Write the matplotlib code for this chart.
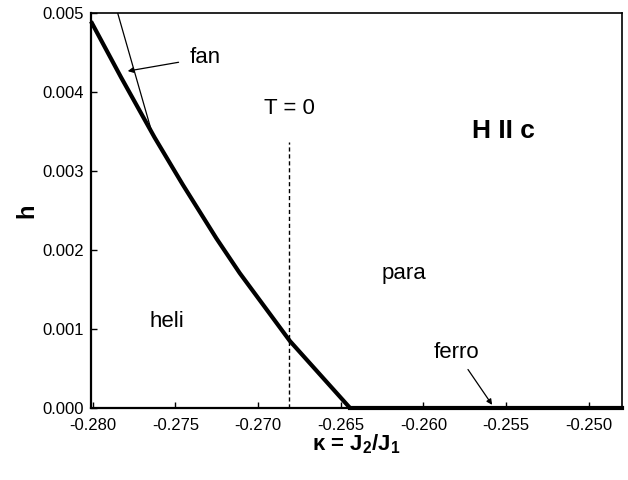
import numpy as np
import matplotlib
matplotlib.use("Agg")
import matplotlib.pyplot as plt

plt.rcParams['font.family'] = ['Liberation Sans', 'DejaVu Sans']
plt.rcParams['axes.unicode_minus'] = False
plt.rcParams['mathtext.fontset'] = 'custom'
plt.rcParams['mathtext.rm'] = 'Liberation Sans'
plt.rcParams['mathtext.bf'] = 'Liberation Sans:bold'

# helical / para boundary (thick curve)
heli_kappa = [-0.2801, -0.27828, -0.27626, -0.27515, -0.27455, -0.27252,
              -0.27111, -0.26808, -0.26444]
heli_h = [0.00490, 0.00419, 0.00343, 0.00304, 0.00283, 0.00215,
          0.00171, 0.00085, 0.0]

# fan phase boundary (thin line)
fan_kappa = [-0.27848, -0.27636]
fan_h = [0.0050, 0.00345]

# ferro phase along h = 0
ferro_kappa = [-0.26444, -0.2480]
ferro_h = [0.0, 0.0]

# T = 0 line
t0_kappa = -0.26812
t0_top = 0.00337

xticks = [-0.280, -0.275, -0.270, -0.265, -0.260, -0.255, -0.250]
yticks = [0.000, 0.001, 0.002, 0.003, 0.004, 0.005]

fig = plt.figure(figsize=(6.28, 4.8), dpi=100)
ax = fig.add_axes([0.1449, 0.15, 0.8455, 0.8219])

ax.plot(heli_kappa, heli_h, color='black', lw=3.0, solid_capstyle='butt',
        solid_joinstyle='round', clip_on=False)
ax.plot(fan_kappa, fan_h, color='black', lw=0.9)
ax.plot(ferro_kappa, ferro_h, color='black', lw=3.0, clip_on=False)
ax.plot([t0_kappa, t0_kappa], [0, t0_top], color='black', lw=1.0, ls=(0, (3, 2)))

ax.set_xlim(-0.2801, -0.248)
ax.set_ylim(0, 0.005)
ax.set_xticks(xticks)
ax.set_yticks(yticks)
ax.set_xticklabels([f"{v:.3f}" for v in xticks])
ax.set_yticklabels([f"{v:.3f}" for v in yticks])
ax.tick_params(direction='in', length=4, width=1, labelsize=12)
ax.tick_params(axis='x', pad=7)
ax.tick_params(axis='y', pad=5)

for side in ['left', 'bottom']:
    ax.spines[side].set_linewidth(1.6)
for side in ['top', 'right']:
    ax.spines[side].set_linewidth(1.2)

ax.set_ylabel('h', fontsize=17, fontweight='bold', labelpad=3)
ax.set_xlabel(r'κ = J$_\mathbf{2}$/J$_\mathbf{1}$', fontsize=16, fontweight='bold', labelpad=0)

# region labels
ax.text(-0.2755, 0.0011, 'heli', fontsize=16, ha='center', va='center')
ax.text(-0.26117, 0.0017, 'para', fontsize=16, ha='center', va='center')
ax.text(-0.26812, 0.0038, 'T = 0', fontsize=16, ha='center', va='center')
ax.text(-0.25517, 0.00351, 'H II c', fontsize=19, fontweight='bold', ha='center', va='center')

ax.annotate('fan', xy=(-0.27788, 0.00427), xytext=(-0.2732, 0.00444),
            fontsize=16, ha='center', va='center',
            arrowprops=dict(arrowstyle='-|>', color='black', lw=0.9,
                            mutation_scale=8, shrinkA=6, shrinkB=0))
ax.annotate('ferro', xy=(-0.25585, 0.00004), xytext=(-0.2580, 0.0007),
            fontsize=16, ha='center', va='center',
            arrowprops=dict(arrowstyle='-|>', color='black', lw=0.9,
                            mutation_scale=8, shrinkA=3, shrinkB=0))

fig.savefig('out.png', dpi=100)
